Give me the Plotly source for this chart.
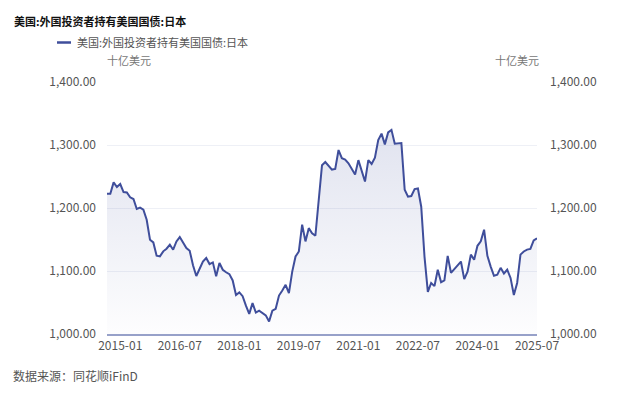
import pandas as pd
import plotly.graph_objects as go

# ---- data ----
months = [d.strftime("%Y-%m") for d in pd.date_range("2014-09-01", "2025-07-01", freq="MS")]
japan_holdings = [
    1222.7, 1222.7, 1240.7, 1233.3, 1238.0, 1225.3, 1224.8, 1216.9, 1214.2, 1198.4,
    1200.5, 1197.3, 1181.4, 1149.7, 1145.4, 1124.3, 1123.2, 1131.2, 1135.4, 1141.7,
    1133.8, 1147.0, 1153.9, 1145.4, 1136.5, 1132.2, 1109.0, 1092.0, 1104.7, 1115.0,
    1120.6, 1111.0, 1113.7, 1091.5, 1112.7, 1102.0, 1098.0, 1095.0, 1085.0, 1062.0,
    1066.0, 1060.0, 1045.0, 1032.0, 1049.0, 1034.0, 1037.0, 1033.0, 1029.6, 1020.0,
    1037.0, 1040.0, 1061.0, 1069.0, 1078.0, 1065.0, 1099.0, 1123.0, 1131.0, 1173.5,
    1147.0, 1168.0, 1160.0, 1156.0, 1212.0, 1268.0, 1273.0, 1266.0, 1261.0, 1262.0,
    1292.0, 1279.0, 1277.0, 1271.0, 1261.0, 1253.0, 1276.0, 1258.0, 1242.0, 1276.0,
    1270.0, 1280.0, 1308.0, 1318.0, 1301.0, 1320.0, 1324.0, 1302.0, 1302.0, 1303.0,
    1229.0, 1218.0, 1219.0, 1230.0, 1231.0, 1202.0, 1122.0, 1067.0, 1081.0, 1076.0,
    1102.0, 1082.0, 1085.0, 1124.0, 1097.0, 1103.0, 1110.0, 1115.0, 1087.0, 1099.0,
    1126.0, 1118.0, 1140.0, 1147.0, 1165.5, 1124.0, 1107.0, 1092.5, 1094.0, 1105.0,
    1096.0, 1102.0, 1089.0, 1062.0, 1081.0, 1126.0, 1131.0, 1134.0, 1135.0, 1148.5,
    1152.0,
]
x_ticks = ["2015-01", "2016-07", "2018-01", "2019-07", "2021-01", "2022-07", "2024-01", "2025-07"]
y_ticks = [1000, 1100, 1200, 1300, 1400]

title_text = "美国:外国投资者持有美国国债:日本"
series_name = "美国:外国投资者持有美国国债:日本"
unit_text = "十亿美元"
source_text = "数据来源：同花顺iFinD"

# ---- style ----
LINE = "#3f4e9b"
FONT = "Noto Sans CJK SC, Noto Sans, sans-serif"
W, H = 640, 394
L, R, T, B = 107, 103, 82, 60
PW, PH = W - L - R, H - T - B


def px(x):
    return (x - L) / PW


def py(y):
    return (H - B - y) / PH


fig = go.Figure()
fig.add_trace(go.Scatter(
    x=months, y=japan_holdings, mode="lines", name=series_name,
    line=dict(color=LINE, width=2),
    fill="tozeroy",
    fillgradient=dict(type="vertical", start=1000, stop=1330,
                      colorscale=[[0, "rgba(64,79,155,0.01)"], [1, "rgba(64,79,155,0.16)"]]),
    showlegend=False,
))
fig.add_trace(go.Scatter(
    x=months, y=japan_holdings, mode="lines", yaxis="y2",
    line=dict(color="rgba(0,0,0,0)", width=0), hoverinfo="skip", showlegend=False,
))

fig.update_layout(
    width=W, height=H,
    margin=dict(l=L, r=R, t=T, b=B),
    paper_bgcolor="white", plot_bgcolor="white",
    font=dict(family=FONT, size=12, color="#555555"),
    xaxis=dict(
        type="category", range=[0, len(months) - 1],
        tickmode="array", tickvals=x_ticks, ticktext=x_ticks,
        showgrid=False, showline=True, linecolor="#97a1c9", linewidth=1.5,
        ticks="", tickfont=dict(size=12, color="#555555"),
    ),
    yaxis=dict(
        range=[1000, 1400], tickmode="array", tickvals=y_ticks,
        tickformat=",.2f", showgrid=True, gridcolor="#eef0f6", gridwidth=1,
        zeroline=False, showline=False, ticks="", ticklabelstandoff=10,
        tickfont=dict(size=12, color="#555555"),
    ),
    yaxis2=dict(
        range=[1000, 1400], overlaying="y", side="right", tickmode="array",
        tickvals=y_ticks, tickformat=",.2f", showgrid=False, zeroline=False,
        showline=False, ticks="", ticklabelstandoff=12,
        tickfont=dict(size=12, color="#555555"),
    ),
    shapes=[dict(type="line", xref="paper", yref="paper",
                 x0=px(57), x1=px(71), y0=py(42.5), y1=py(42.5),
                 line=dict(color=LINE, width=2.5))],
    annotations=[
        dict(text="<b>" + title_text + "</b>", xref="paper", yref="paper",
             x=px(12), y=py(21), xanchor="left", yanchor="middle", showarrow=False,
             font=dict(size=11, color="#111111", family=FONT)),
        dict(text=series_name, xref="paper", yref="paper",
             x=px(75), y=py(42.5), xanchor="left", yanchor="middle", showarrow=False,
             font=dict(size=11, color="#555555", family=FONT)),
        dict(text=unit_text, xref="paper", yref="paper",
             x=px(105), y=py(60), xanchor="left", yanchor="middle", showarrow=False,
             font=dict(size=11, color="#777777", family=FONT)),
        dict(text=unit_text, xref="paper", yref="paper",
             x=px(541), y=py(60), xanchor="right", yanchor="middle", showarrow=False,
             font=dict(size=11, color="#777777", family=FONT)),
        dict(text=source_text, xref="paper", yref="paper",
             x=px(11), y=py(375), xanchor="left", yanchor="middle", showarrow=False,
             font=dict(size=12, color="#555555", family=FONT)),
    ],
)

fig.write_html("out.html", config={"displayModeBar": False},
               post_script="document.body.style.margin='0';")
